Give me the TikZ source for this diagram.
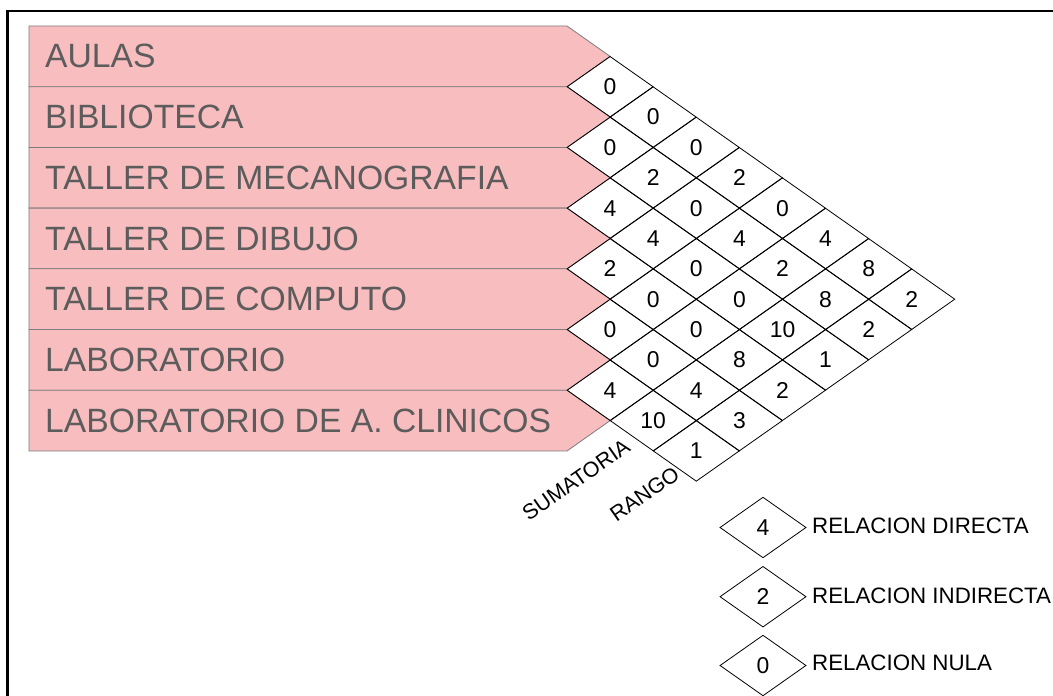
\documentclass[tikz,border=0pt]{standalone}
\usepackage{fontspec}
\setmainfont{Liberation Sans}
\usetikzlibrary{shapes.geometric}
\definecolor{rowpink}{RGB}{248,189,191}
\definecolor{rowedge}{RGB}{125,125,125}
\definecolor{rowtext}{RGB}{92,92,92}
\begin{document}
\begin{tikzpicture}[x=1bp,y=-1bp,
  cell/.style={diamond, draw=black, line width=0.8bp, minimum width=86.2bp,
    minimum height=60.7bp, inner sep=0pt, font=\fontsize{23}{23}\selectfont},
  rowbar/.style={fill=rowpink, draw=rowedge, line width=0.8bp},
  rowlabel/.style={anchor=west, inner sep=0pt, text=rowtext,
    font=\fontsize{33.8}{33.8}\selectfont},
  colhead/.style={rotate=35, inner sep=0pt, font=\fontsize{21.5}{21.5}\selectfont},
  legtext/.style={anchor=west, inner sep=0pt, font=\fontsize{22.4}{22.4}\selectfont},
  frame/.style={draw=black, line width=2.2bp}]
\useasboundingbox (0,0) rectangle (1053,696);
\fill[white] (0,0) rectangle (1053,696);
% outer frame (left and top visible)
\draw[frame] (7.5,696) -- (7.5,11) -- (1053,11);
% pink row bars
\foreach \r in {0,...,6} {
  \pgfmathsetmacro{\t}{26+60.71*\r}
  \draw[rowbar] (29,\t) -- (567,\t) -- (610.1,{\t+30.355}) -- (567,{\t+60.71}) -- (29,{\t+60.71}) -- cycle;
}
% row labels
\foreach \r/\txt in {0/AULAS, 1/BIBLIOTECA, 2/TALLER DE MECANOGRAFIA, 3/TALLER DE DIBUJO,
  4/TALLER DE COMPUTO, 5/LABORATORIO, 6/LABORATORIO DE A. CLINICOS} {
  \node[rowlabel] (r\r) at (45,{26+60.71*(\r+0.5)}) {\txt};
}
% relation matrix cells (row i, column j)
\foreach \i/\j/\v in {0/1/0,
  0/2/0, 1/2/0,
  0/3/0, 1/3/2, 2/3/4,
  0/4/2, 1/4/0, 2/4/4, 3/4/2,
  0/5/0, 1/5/4, 2/5/0, 3/5/0, 4/5/0,
  0/6/4, 1/6/2, 2/6/0, 3/6/0, 4/6/0, 5/6/4,
  0/7/8, 1/7/8, 2/7/10, 3/7/8, 4/7/4, 5/7/10,
  0/8/2, 1/8/2, 2/8/1, 3/8/2, 4/8/3, 5/8/1} {
  \node[cell] (d\i\j) at ({567+(\j-\i)*43.1},{26+60.71*(\i+\j+1)/2}) {\v};
}
% column headings
\node[colhead] (sum) at (576,480) {SUMATORIA};
\node[colhead] (rango) at (644.5,494) {RANGO};
% legend
\node[cell] (l4) at (763,527.5) {4};
\node[cell] (l2) at (763,596.7) {2};
\node[cell] (l0) at (763,665.5) {0};
\node[legtext] (t4) at (812,526) {RELACION DIRECTA};
\node[legtext] (t2) at (812,595.5) {RELACION INDIRECTA};
\node[legtext] (t0) at (812,662.5) {RELACION NULA};
\end{tikzpicture}
\end{document}
